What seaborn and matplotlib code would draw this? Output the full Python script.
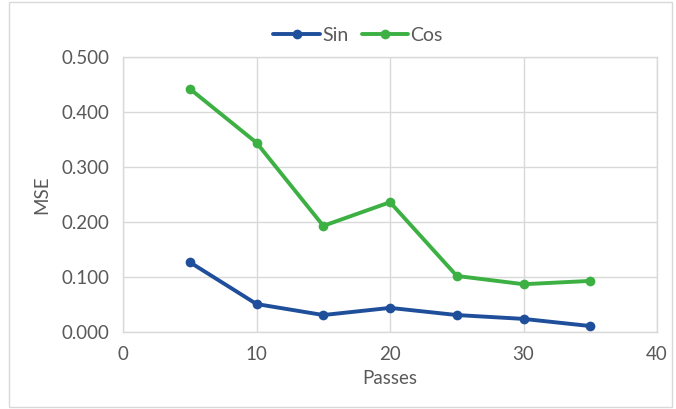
import matplotlib
matplotlib.use("Agg")
import matplotlib.pyplot as plt
import seaborn as sns
import pandas as pd
from matplotlib.patches import Rectangle

passes = [5, 10, 15, 20, 25, 30, 35]
sin_mse = [0.127, 0.051, 0.031, 0.044, 0.031, 0.024, 0.011]
cos_mse = [0.442, 0.344, 0.193, 0.236, 0.102, 0.087, 0.093]
series_names = ["Sin", "Cos"]
x_ticks = [0, 10, 20, 30, 40]
y_ticks = [0.0, 0.1, 0.2, 0.3, 0.4, 0.5]

df = pd.DataFrame({
    "Passes": passes * 2,
    "MSE": sin_mse + cos_mse,
    "Series": [series_names[0]] * len(passes) + [series_names[1]] * len(passes),
})

sns.set_style("white")
plt.rcParams["font.family"] = ["Lato", "DejaVu Sans"]
txt = "#595959"

fig = plt.figure(figsize=(6.76, 4.09), dpi=100)
ax = fig.add_axes([0.182, 0.188, 0.79, 0.673])

palette = {"Sin": "#1F4E9B", "Cos": "#3CB043"}
sns.lineplot(data=df, x="Passes", y="MSE", hue="Series", palette=palette,
             marker="o", markersize=7, markeredgewidth=0, linewidth=2.8, ax=ax)

ax.set_xlim(0, 40)
ax.set_ylim(0, 0.5)
ax.set_xticks(x_ticks)
ax.set_yticks(y_ticks)
ax.set_yticklabels([f"{v:.3f}" for v in y_ticks])
ax.grid(True, color="#D9D9D9", linewidth=1)
ax.set_axisbelow(True)
for s in ax.spines.values():
    s.set_color("#D9D9D9")
    s.set_linewidth(1)
ax.tick_params(axis="both", length=0, labelsize=13.5, colors=txt, pad=10)
ax.set_xlabel("Passes", fontsize=13.5, color=txt, labelpad=5)
ax.set_ylabel("MSE", fontsize=13.5, color=txt, labelpad=8)

leg = ax.legend(loc="lower center", bbox_to_anchor=(0.44, 1.005), ncol=2, frameon=False,
                fontsize=14, handlelength=2.4, columnspacing=0.7, handletextpad=0.1,
                labelcolor=txt, borderaxespad=0.2)

fig.patches.append(Rectangle((0.014, 0.005), 0.98, 0.99, transform=fig.transFigure,
                             fill=False, edgecolor="#D9D9D9", linewidth=1))

fig.savefig("out.png", dpi=100)
